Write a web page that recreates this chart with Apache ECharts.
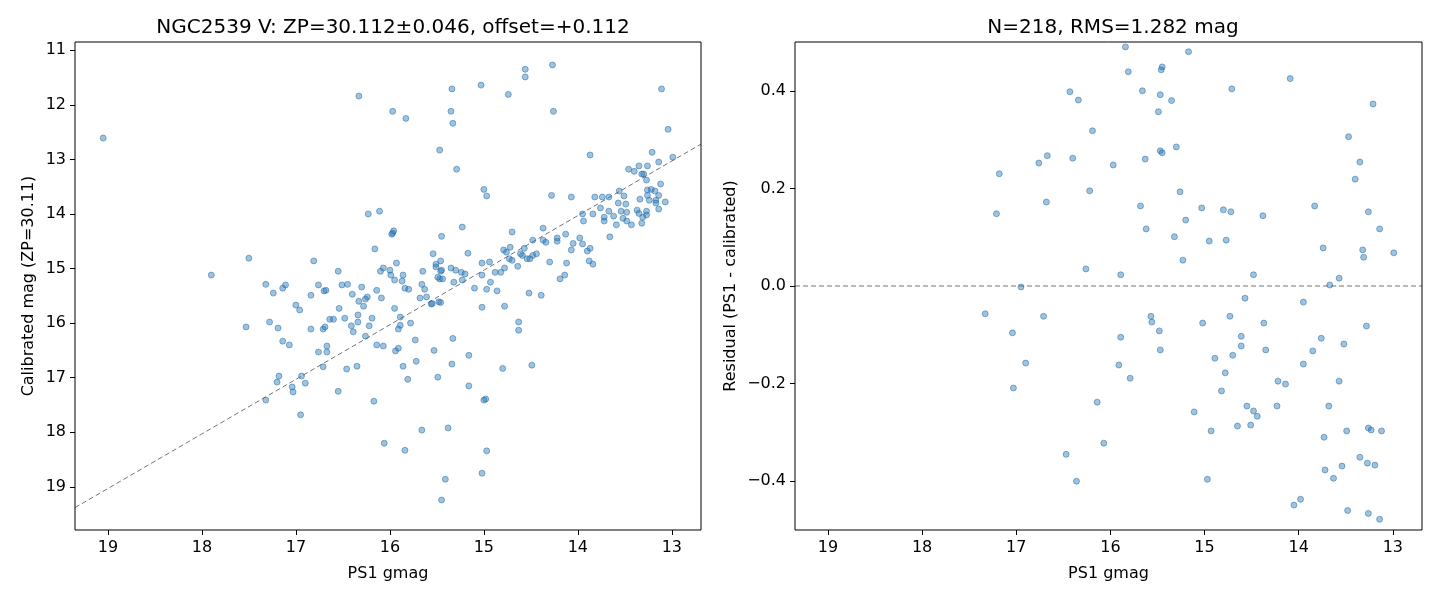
<!DOCTYPE html>
<html>
<head>
<meta charset="utf-8">
<script src="https://cdn.jsdelivr.net/npm/echarts@6/dist/echarts.min.js"></script>
<style>
  html, body { margin: 0; padding: 0; background: #fff; }
  #chart { width: 1440px; height: 600px; }
</style>
</head>
<body>
<div id="chart"></div>
<script>
// left panel: PS1 gmag vs calibrated mag
const calG = [
  19.05,16.33,15.97,15.83,15.34,15.35,15.33,15.47,15.29,15.03,14.74,14.56,14.56,14.27,14.26,13.11,13.04,15.00,14.97,13.87,
  14.28,14.07,13.21,12.99,13.14,13.46,13.40,13.35,13.26,13.32,13.30,13.27,13.12,13.26,13.22,13.18,13.14,13.26,13.24,13.17,
  13.17,13.07,13.34,13.56,13.51,13.57,13.49,13.82,13.74,13.67,13.76,13.67,13.54,13.48,13.37,13.35,13.27,13.27,13.14,13.95,
  13.84,13.72,13.62,13.52,13.31,13.72,13.94,13.48,13.43,13.32,13.59,13.66,14.37,14.48,14.70,14.13,14.22,14.22,14.37,14.34,
  13.98,14.05,13.95,13.87,13.90,14.07,14.72,14.79,14.76,14.57,14.61,14.59,14.48,14.44,14.54,14.51,14.73,14.70,14.78,14.82,
  14.88,14.64,14.94,15.02,15.02,14.93,14.97,15.10,14.86,14.30,14.12,13.88,13.84,14.14,14.19,15.23,15.45,15.54,15.17,15.46,
  15.51,15.51,15.45,15.46,15.35,15.30,15.24,15.20,15.49,15.47,15.44,15.32,15.23,15.93,15.97,15.65,15.66,15.86,15.87,15.95,
  15.99,16.00,15.84,15.80,15.63,14.52,14.39,15.68,15.61,15.56,15.55,15.48,15.46,15.95,15.89,15.89,15.91,15.78,15.02,14.78,
  14.63,14.63,15.73,15.33,15.91,15.94,15.53,15.16,15.72,15.34,15.86,14.80,14.49,15.81,15.49,15.16,15.00,14.98,15.66,15.38,
  15.84,14.97,15.02,15.41,15.45,17.32,17.24,17.14,17.11,16.76,16.70,16.68,16.84,16.51,16.45,16.30,16.14,16.40,16.33,16.24,
  16.26,16.09,16.28,16.54,17.00,16.96,17.28,17.53,17.19,17.14,17.07,16.84,16.71,16.69,16.64,16.60,16.48,16.41,16.39,16.34,
  16.34,16.22,16.19,16.26,16.14,16.07,16.67,16.67,16.76,16.71,16.46,16.35,16.55,16.17,16.06,17.18,17.20,16.94,16.90,17.04,
  17.03,17.32,16.95,16.23,16.11,16.16,15.98,15.96,17.50,17.90,16.81,16.55,16.10,16.07
];
const calMag = [
  12.61,11.84,12.12,12.25,11.71,12.12,12.34,12.83,13.18,11.64,11.81,11.35,11.49,11.27,12.12,11.71,12.45,13.55,13.67,12.92,
  13.66,13.69,12.87,12.96,13.05,13.18,13.22,13.12,13.12,13.27,13.27,13.38,13.45,13.56,13.55,13.58,13.66,13.66,13.75,13.75,
  13.80,13.78,13.73,13.58,13.67,13.80,13.82,13.69,13.69,13.69,13.89,13.95,13.95,13.97,13.93,13.99,13.95,14.02,13.91,14.00,
  14.00,14.06,14.04,14.08,14.06,14.13,14.13,14.13,14.20,14.17,14.20,14.42,14.26,14.48,14.33,14.37,14.44,14.50,14.48,14.52,
  14.44,14.54,14.55,14.63,14.68,14.66,14.61,14.66,14.70,14.63,14.73,14.76,14.76,14.73,14.82,14.82,14.82,14.85,14.99,15.07,
  15.07,14.96,14.88,14.90,15.12,15.25,15.38,15.36,15.41,14.88,14.90,14.86,14.92,15.12,15.19,14.24,14.41,14.73,14.72,14.86,
  14.92,14.97,15.03,15.05,14.99,15.03,15.07,15.10,15.16,15.19,15.19,15.25,15.21,14.90,14.35,15.05,15.29,15.12,15.23,15.21,
  15.12,15.03,15.36,15.38,15.38,15.45,15.49,15.54,15.52,15.65,15.64,15.61,15.62,15.73,15.89,16.04,16.11,16.00,15.71,15.69,
  15.98,16.13,16.31,16.28,16.46,16.51,16.50,16.59,16.70,16.75,16.79,16.83,16.77,17.03,16.99,17.15,17.41,17.39,17.96,17.92,
  18.33,18.34,18.75,18.86,19.24,15.29,15.45,15.36,15.30,15.30,15.41,15.40,15.49,15.30,15.29,15.34,15.40,15.47,15.60,15.52,
  15.56,15.54,15.69,15.73,15.67,15.76,15.98,16.07,16.09,16.33,16.40,16.11,16.11,16.07,15.93,15.93,15.91,16.05,16.16,15.98,
  15.85,16.05,15.91,16.24,16.40,16.42,16.42,16.53,16.53,16.80,16.84,16.79,17.25,17.43,18.20,16.97,17.08,16.97,17.10,17.17,
  17.26,17.41,17.68,14.00,13.95,14.64,14.37,14.31,14.81,15.12,14.86,15.05,15.05,14.99
];
// 1:1 reference line ends
const refLineG = [19.35, 12.69];
const refLineMag = [19.38, 12.72];

// right panel: residuals
const resG = [
  16.43,16.34,16.19,16.67,16.76,16.40,15.97,17.18,16.22,16.68,17.21,16.26,16.95,15.84,15.17,15.81,15.45,15.46,15.66,15.47,
  15.35,15.49,14.71,14.09,13.21,13.47,13.35,13.40,15.47,15.45,15.30,15.63,15.26,15.68,15.03,14.80,14.72,14.38,13.83,13.26,
  15.20,15.62,15.32,14.95,14.77,13.14,13.74,13.32,13.31,12.99,15.23,15.89,14.48,13.57,13.67,17.33,16.71,17.04,16.90,17.03,
  16.14,16.07,16.47,16.36,14.57,13.95,15.57,15.56,14.73,15.02,14.37,15.48,15.89,14.61,13.76,13.28,15.47,14.61,14.35,13.85,
  13.52,14.89,14.70,15.91,13.95,15.79,14.78,14.22,14.14,13.57,14.82,15.11,14.55,14.48,14.44,14.23,13.68,14.93,14.65,14.51,
  13.73,13.49,13.26,13.23,13.12,13.35,13.27,13.19,13.54,13.72,13.63,14.97,13.98,14.05,13.48,13.26,13.14
];
const resVal = [
  0.398,0.381,0.318,0.267,0.252,0.262,0.248,0.230,0.195,0.172,0.148,0.035,-0.002,0.490,0.480,0.439,0.449,0.443,0.400,0.392,
  0.380,0.357,0.404,0.425,0.373,0.306,0.254,0.219,0.277,0.273,0.285,0.260,0.193,0.164,0.160,0.156,0.152,0.144,0.164,0.152,
  0.135,0.117,0.101,0.092,0.094,0.117,0.078,0.074,0.059,0.068,0.053,0.023,0.023,0.016,0.002,-0.057,-0.062,-0.096,-0.158,-0.209,
  -0.238,-0.322,-0.345,-0.400,-0.025,-0.033,-0.062,-0.074,-0.062,-0.076,-0.076,-0.092,-0.105,-0.103,-0.107,-0.082,-0.131,-0.123,-0.131,-0.133,
  -0.119,-0.148,-0.142,-0.162,-0.160,-0.189,-0.178,-0.195,-0.201,-0.195,-0.215,-0.258,-0.246,-0.256,-0.267,-0.246,-0.246,-0.297,-0.287,-0.285,
  -0.310,-0.297,-0.291,-0.295,-0.297,-0.351,-0.363,-0.367,-0.369,-0.377,-0.394,-0.396,-0.437,-0.449,-0.460,-0.466,-0.478
];
const zeroLineG = [19.35, 12.69];

const gTicks = [13, 14, 15, 16, 17, 18, 19];
const magTicks = [11, 12, 13, 14, 15, 16, 17, 18, 19];
const resTicks = [-0.4, -0.2, 0, 0.2, 0.4];

const font = 'DejaVu Sans';
const dotStyle = { color: 'rgba(31,119,180,0.55)', borderColor: 'rgba(31,100,165,0.6)', borderWidth: 1 };
const dashStyle = { color: 'rgba(0,0,0,0.55)', width: 1, type: [5, 3] };
const labelFont = { fontFamily: font, fontSize: 16, color: '#000' };

function xAxis(grid) {
  return {
    gridIndex: grid, type: 'value', inverse: true, min: 12.69, max: 19.35,
    name: 'PS1 gmag', nameLocation: 'middle', nameGap: 36,
    nameTextStyle: labelFont,
    axisLine: { show: false, onZero: false },
    axisTick: { show: true, length: 5, lineStyle: { color: '#000' }, customValues: gTicks },
    axisLabel: Object.assign({ margin: 10, customValues: gTicks }, labelFont),
    splitLine: { show: false }
  };
}

const chart = echarts.init(document.getElementById('chart'));
chart.setOption({
  animation: false,
  title: [
    { text: 'NGC2539 V: ZP=30.112\u00b10.046, offset=+0.112', left: 388, top: 13, textAlign: 'center',
      textStyle: { fontFamily: font, fontSize: 20, fontWeight: 'normal', color: '#000' } },
    { text: 'N=218, RMS=1.282 mag', left: 1108, top: 13, textAlign: 'center',
      textStyle: { fontFamily: font, fontSize: 20, fontWeight: 'normal', color: '#000' } }
  ],
  grid: [
    { left: 75, right: 739, top: 42, bottom: 70, show: true, borderColor: '#000', borderWidth: 1, backgroundColor: 'transparent' },
    { left: 795, right: 18, top: 42, bottom: 70, show: true, borderColor: '#000', borderWidth: 1, backgroundColor: 'transparent' }
  ],
  xAxis: [xAxis(0), xAxis(1)],
  yAxis: [
    {
      gridIndex: 0, type: 'value', inverse: true, min: 10.85, max: 19.79,
      name: 'Calibrated mag (ZP=30.11)', nameLocation: 'middle', nameGap: 38,
      nameTextStyle: labelFont,
      axisLine: { show: false, onZero: false },
      axisTick: { show: true, length: 5, lineStyle: { color: '#000' }, customValues: magTicks },
      axisLabel: Object.assign({ margin: 9, customValues: magTicks }, labelFont),
      splitLine: { show: false }
    },
    {
      gridIndex: 1, type: 'value', min: -0.5, max: 0.5,
      name: 'Residual (PS1 - calibrated)', nameLocation: 'middle', nameGap: 56,
      nameTextStyle: labelFont,
      axisLine: { show: false, onZero: false },
      axisTick: { show: true, length: 5, lineStyle: { color: '#000' }, customValues: resTicks },
      axisLabel: Object.assign({
        margin: 9, customValues: resTicks,
        formatter: v => (v < 0 ? '\u2212' : '') + Math.abs(v).toFixed(1)
      }, labelFont),
      splitLine: { show: false }
    }
  ],
  series: [
    {
      type: 'line', xAxisIndex: 0, yAxisIndex: 0, symbol: 'none', silent: true,
      data: refLineG.map((g, i) => [g, refLineMag[i]]), lineStyle: dashStyle, z: 1
    },
    {
      type: 'scatter', xAxisIndex: 0, yAxisIndex: 0, symbolSize: 6,
      data: calG.map((g, i) => [g, calMag[i]]), itemStyle: dotStyle, z: 2
    },
    {
      type: 'line', xAxisIndex: 1, yAxisIndex: 1, symbol: 'none', silent: true,
      data: zeroLineG.map(g => [g, 0]), lineStyle: dashStyle, z: 1
    },
    {
      type: 'scatter', xAxisIndex: 1, yAxisIndex: 1, symbolSize: 6,
      data: resG.map((g, i) => [g, resVal[i]]), itemStyle: dotStyle, z: 2
    }
  ]
});
</script>
</body>
</html>
